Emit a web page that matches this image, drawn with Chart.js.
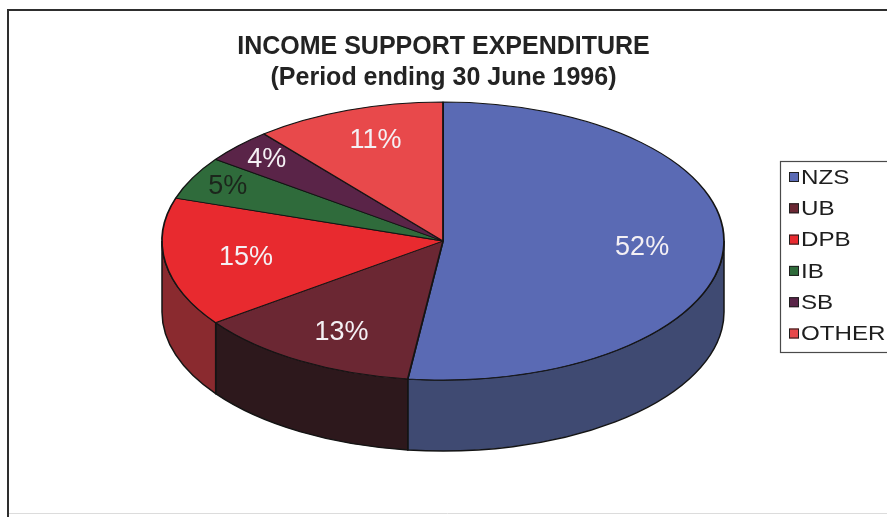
<!DOCTYPE html>
<html>
<head>
<meta charset="utf-8">
<title>Income Support Expenditure</title>
<script src="https://cdn.jsdelivr.net/npm/chart.js@4"></script>
<style>
    html, body { margin: 0; padding: 0; background: #ffffff; }
    #wrap { width: 887px; height: 517px; overflow: hidden; }
</style>
</head>
<body>
<div id="wrap"><canvas id="chartPie" width="887" height="517"></canvas></div>
<script>
// Data
const benefitLabels = ['NZS', 'UB', 'DPB', 'IB', 'SB', 'OTHER'];
const benefitShares = [52, 13, 15, 5, 4, 11];
const titleLines = ['INCOME SUPPORT EXPENDITURE', '(Period ending 30 June 1996)'];

// Colours: top face, side wall, value label
const topColors = ['#5a6ab4', '#6b2733', '#e82a2f', '#2f6b3b', '#5a2448', '#e8494b'];
const sideColors = ['#3f4a72', '#2d181c', '#8a2a2f', '#1f4a28', '#3a1830', '#9a3032'];
const labelColors = ['#f4f0f4', '#f4f0f4', '#f4f0f4', '#1c261c', '#f4f0f4', '#f4f0f4'];

// Tilted pie geometry (screen px)
const PIE = { cx: 443, cy: 241, rx: 281, ry: 139, depth: 71 };
const FONT = "'Liberation Sans', Arial, sans-serif";

// Outer frame of the chart sheet
const framePlugin = {
    id: 'frame',
    beforeDraw(chart) {
        const ctx = chart.ctx;
        ctx.save();
        ctx.strokeStyle = '#dcdcdc';
        ctx.lineWidth = 1;
        ctx.beginPath();
        ctx.moveTo(8, 513.5);
        ctx.lineTo(887, 513.5);
        ctx.stroke();
        ctx.strokeStyle = '#2e2e2e';
        ctx.lineWidth = 2;
        ctx.beginPath();
        ctx.moveTo(8, 517);
        ctx.lineTo(8, 10);
        ctx.lineTo(887, 10);
        ctx.stroke();
        ctx.restore();
    }
};

// Squash the pie into an ellipse and give it a side wall
const tiltPlugin = {
    id: 'tilt',
    beforeDatasetsDraw(chart) {
        const ctx = chart.ctx;
        const arcs = chart.getDatasetMeta(0).data;
        const { cx, cy, rx, ry, depth } = PIE;

        // Front walls, only the half facing the viewer (0..PI)
        ctx.save();
        ctx.lineWidth = 1.5;
        ctx.strokeStyle = '#141414';
        arcs.forEach((arc, i) => {
            const s = Math.max(arc.startAngle, 0);
            const e = Math.min(arc.endAngle, Math.PI);
            if (e <= s) return;
            ctx.beginPath();
            ctx.ellipse(cx, cy, rx, ry, 0, s, e);
            ctx.ellipse(cx, cy + depth, rx, ry, 0, e, s, true);
            ctx.closePath();
            ctx.fillStyle = sideColors[i];
            ctx.fill();
            ctx.stroke();
        });
        ctx.restore();

        const a = arcs[0];
        ctx.save();
        ctx.translate(cx, cy);
        ctx.scale(rx / a.outerRadius, ry / a.outerRadius);
        ctx.translate(-a.x, -a.y);
    },
    afterDatasetsDraw(chart) {
        const ctx = chart.ctx;
        ctx.restore();

        // Percent labels inside each slice; thin slices push them outward
        const arcs = chart.getDatasetMeta(0).data;
        const values = chart.data.datasets[0].data;
        ctx.save();
        ctx.font = `27px ${FONT}`;
        ctx.textAlign = 'center';
        ctx.textBaseline = 'middle';
        arcs.forEach((arc, i) => {
            const mid = (arc.startAngle + arc.endAngle) / 2;
            const thin = values[i] < 8;
            const f = thin ? 0.86 : 0.71;
            const x = PIE.cx + f * PIE.rx * Math.cos(mid);
            const y = PIE.cy + f * PIE.ry * Math.sin(mid) * (thin ? 1 : 1.08);
            ctx.fillStyle = labelColors[i];
            ctx.fillText(values[i] + '%', x, y);
        });
        ctx.restore();
    }
};

// Boxed legend on the right edge
const boxLegendPlugin = {
    id: 'boxLegend',
    afterDraw(chart) {
        const ctx = chart.ctx;
        const labels = chart.data.labels;
        const colors = chart.data.datasets[0].backgroundColor;
        const left = 780, top = 161, bottom = 352;
        const firstY = 177, step = 31.3;

        ctx.save();
        ctx.strokeStyle = '#4a4a4a';
        ctx.lineWidth = 1.2;
        ctx.strokeRect(left + 0.5, top + 0.5, 140, bottom - top);

        ctx.font = `21px ${FONT}`;
        ctx.textBaseline = 'middle';
        labels.forEach((label, i) => {
            const y = firstY + i * step;
            ctx.fillStyle = colors[i];
            ctx.fillRect(789, y - 5, 10, 10);
            ctx.strokeStyle = '#1e1e1e';
            ctx.lineWidth = 1;
            ctx.strokeRect(789.5, y - 4.5, 9, 9);
            // text is a little wider than the face normally sets
            ctx.save();
            ctx.translate(801, y + 1);
            ctx.scale(1.15, 1);
            ctx.fillStyle = '#1e1e1e';
            ctx.fillText(label, 0, 0);
            ctx.restore();
        });
        ctx.restore();
    }
};

new Chart(document.getElementById('chartPie'), {
    type: 'pie',
    data: {
        labels: benefitLabels,
        datasets: [{
            data: benefitShares,
            backgroundColor: topColors,
            borderColor: '#141414',
            borderWidth: 1.3,
            clip: false
        }]
    },
    options: {
        responsive: false,
        animation: false,
        events: [],
        layout: { padding: 0 },
        plugins: {
            legend: { display: false },
            tooltip: { enabled: false },
            title: {
                display: true,
                text: titleLines,
                color: '#232323',
                font: { family: FONT, size: 25, weight: 'bold', lineHeight: 1.24 },
                padding: { top: 32, bottom: 10 }
            }
        }
    },
    plugins: [framePlugin, tiltPlugin, boxLegendPlugin]
});
</script>
</body>
</html>
